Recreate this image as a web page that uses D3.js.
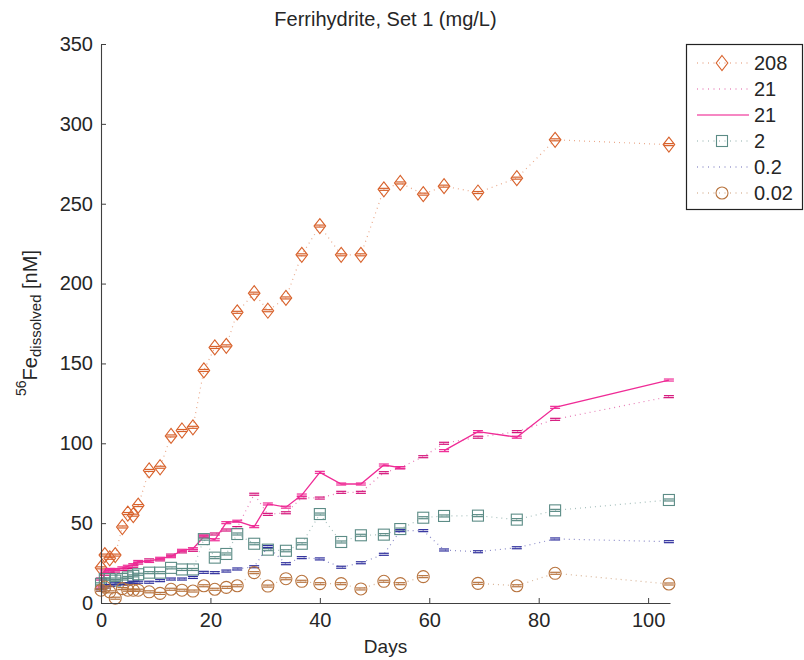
<!DOCTYPE html>
<html>
<head>
<meta charset="utf-8">
<script src="https://cdn.jsdelivr.net/npm/d3@7"></script>
<style>
    body { margin: 0; background: #fff; }
    svg { display: block; font-family: "Liberation Sans", Arial, sans-serif; }
</style>
</head>
<body>
<div id="chart"></div>
<script>
// Sampling days (shared by every series)
var days = [0, 0.7, 1.6, 2.6, 3.9, 4.9, 5.9, 6.8, 8.8, 10.8, 12.8, 14.8, 16.8,
    18.8, 20.8, 22.9, 24.9, 28, 30.5, 33.8, 36.7, 40, 43.9, 47.5, 51.7,
    54.7, 58.9, 62.7, 68.9, 76, 83, 103.8];

// 56Fe dissolved [nM] per ferrihydrite dose (mg/L); null = no sample
var fe208 = [22, 30, 28, 30, 47.6, 56, 55, 61, 83, 85, 104.6, 108, 110,
    145.6, 160, 161, 182, 194, 183, 191, 218, 236, 218, 218, 259,
    263, 256, 261, 257, 266, 290, 287];
var fe21dot = [15, 18, 20, 20, 21, 21, 23, 25, 27, 27, 30, 32, 33,
    42, 43.2, 45.7, 47.2, 68.1, 55.5, 56.5, 65.9, 65.7, 69.3, 69.3, 81.6,
    84.7, 91.6, 100, 103.8, 107.3, 115, 129.2];
var fe21solid = [10, 20, 21, 21, 22, 23, 24, 26, 26, 28, 29, 33, 34,
    41.5, 39.6, 50.3, 51.2, 47.8, 62, 60, 67.6, 81.8, 74.5, 74.5, 86.4,
    84.7, null, 95.4, 107.3, 103.8, 122.5, 139.6];
var fe2 = [12, 15, 15, 14, 15, 16, 17, 18, 19, 19, 22, 21, 21,
    40, 28.4, 30.7, 43.2, 37.1, 33.4, 32.7, 37.1, 55.7, 38.2, 42.4, 42.8,
    46.3, 53.4, 54.5, 54.7, 52.2, 58, 64.5];
var fe02 = [8, 10, 11, 12, 12, 12, 13, 13, 13, 14, 15, 15, 16,
    19.2, 19, 20, 21.3, 22.7, 35.3, 24.6, 28.4, 27.6, 22.4, 25.2, 30.5,
    45.3, 45.3, 33.2, 32.1, 34.6, 40.1, 38.4];
var fe002 = [8, 10, 7, 3, 9, 8, 8, 8, 7, 6, 8.6, 8, 7.5,
    10.8, 8.6, 9.8, 10.8, 19, 10.6, 15.2, 13.6, 12.1, 12.1, 8.8, 13.6,
    12.1, 16.5, null, 12.3, 10.8, 18.6, 11.9];

var legendLabels = ["208", "21", "21", "2", "0.2", "0.02"];
var xTicks = [0, 20, 40, 60, 80, 100];
var yTicks = [0, 50, 100, 150, 200, 250, 300, 350];

// Series styling
var series = [
    {values: fe208, color: "#d8622c", line: "dot", marker: "diamond"},
    {values: fe21dot, color: "#d4127a", line: "dot", marker: "none"},
    {values: fe21solid, color: "#ef2b96", line: "solid", marker: "none"},
    {values: fe2, color: "#5c8c86", line: "dot", marker: "square"},
    {values: fe02, color: "#2e2e9c", line: "dot", marker: "none"},
    {values: fe002, color: "#b8743f", line: "dot", marker: "circle"}
];
series.forEach(function (s, i) { s.label = legendLabels[i]; });

var W = 804, H = 660;
var plot = {left: 101, right: 670, top: 44, bottom: 603};
var TEXT = "#262626";

var svg = d3.select("#chart").append("svg")
    .attr("width", W)
    .attr("height", H);

var x = d3.scaleLinear().domain([0, 104]).range([plot.left, plot.right]);
var y = d3.scaleLinear().domain([0, 350]).range([plot.bottom, plot.top]);

// Draws a marker shape centred on (0,0)
function drawMarker(g, kind, color) {
    if (kind === "diamond") {
        g.append("path").attr("d", "M0,-7.5L5.8,0L0,7.5L-5.8,0Z")
            .attr("fill", "none").attr("stroke", color).attr("stroke-width", 1.1);
    } else if (kind === "square") {
        g.append("rect").attr("x", -5.5).attr("y", -5.5).attr("width", 11).attr("height", 11)
            .attr("fill", "none").attr("stroke", color).attr("stroke-width", 1.1);
    } else if (kind === "circle") {
        g.append("circle").attr("r", 6)
            .attr("fill", "none").attr("stroke", color).attr("stroke-width", 1.1);
    }
}

// Data lines and points
var lines = svg.append("g").attr("class", "series");
series.forEach(function (s) {
    var pts = days.map(function (d, i) { return {day: d, v: s.values[i]}; });
    var line = d3.line()
        .defined(function (p) { return p.v !== null; })
        .x(function (p) { return x(p.day); })
        .y(function (p) { return y(p.v); });

    var path = lines.append("path")
        .datum(pts)
        .attr("d", line)
        .attr("fill", "none")
        .attr("stroke", s.color);
    if (s.line === "dot") {
        path.attr("stroke-width", 1.2)
            .attr("stroke-dasharray", "1,4")
            .attr("opacity", 0.55);
    } else {
        path.attr("stroke-width", 1.3);
    }

    var pg = lines.append("g")
        .selectAll("g")
        .data(pts.filter(function (p) { return p.v !== null; }))
        .enter().append("g")
            .attr("transform", function (p) { return "translate(" + x(p.day) + "," + y(p.v) + ")"; });

    // error bar caps (tiny errors, so the caps nearly touch)
    pg.append("line").attr("x1", -5).attr("x2", 5).attr("y1", -1).attr("y2", -1)
        .attr("stroke", s.color).attr("stroke-width", 1.2);
    pg.append("line").attr("x1", -5).attr("x2", 5).attr("y1", 1).attr("y2", 1)
        .attr("stroke", s.color).attr("stroke-width", 1.2);
    pg.each(function () { drawMarker(d3.select(this), s.marker, s.color); });
});

// Axes (MATLAB-like: ticks inside, no box)
var xAxis = svg.append("g")
    .attr("transform", "translate(0," + plot.bottom + ")")
    .call(d3.axisBottom(x).tickValues(xTicks).tickSizeInner(-5).tickSizeOuter(0).tickPadding(10));
var yAxis = svg.append("g")
    .attr("transform", "translate(" + plot.left + ",0)")
    .call(d3.axisLeft(y).tickValues(yTicks).tickSizeInner(-5).tickSizeOuter(0).tickPadding(8));

[xAxis, yAxis].forEach(function (a) {
    a.select(".domain").attr("stroke", "#404040").attr("stroke-width", 1.1);
    a.selectAll(".tick line").attr("stroke", "#404040");
    a.selectAll("text")
        .attr("fill", TEXT)
        .style("font-size", "20px")
        .style("font-family", "'Liberation Sans', Arial, sans-serif");
});

// Title and axis labels
svg.append("text")
    .attr("x", (plot.left + plot.right) / 2)
    .attr("y", 26)
    .attr("text-anchor", "middle")
    .attr("fill", TEXT)
    .style("font-size", "20px")
    .text("Ferrihydrite, Set 1 (mg/L)");

svg.append("text")
    .attr("x", (plot.left + plot.right) / 2)
    .attr("y", 653)
    .attr("text-anchor", "middle")
    .attr("fill", TEXT)
    .style("font-size", "19px")
    .text("Days");

var ylab = svg.append("text")
    .attr("transform", "translate(37,323) rotate(-90)")
    .attr("text-anchor", "middle")
    .attr("fill", TEXT)
    .style("font-size", "20px");
ylab.append("tspan").attr("dy", -11).style("font-size", "14px").text("56");
ylab.append("tspan").attr("dy", 11).text("Fe");
ylab.append("tspan").attr("dy", 4).style("font-size", "15px").text("dissolved");
ylab.append("tspan").attr("dy", -4).text(" [nM]");

// Legend
var legend = svg.append("g").attr("class", "legend");
legend.append("rect")
    .attr("x", 686.5).attr("y", 44.5)
    .attr("width", 116).attr("height", 165)
    .attr("fill", "#fff")
    .attr("stroke", "#222")
    .attr("stroke-width", 1.2);

var rowY = d3.scalePoint().domain(d3.range(series.length)).range([63, 193]);
var item = legend.selectAll("g.item")
    .data(series)
    .enter().append("g")
        .attr("class", "item")
        .attr("transform", function (s, i) { return "translate(0," + rowY(i) + ")"; });

item.append("line")
    .attr("x1", 697).attr("x2", 749)
    .attr("stroke", function (s) { return s.color; })
    .attr("stroke-width", function (s) { return s.line === "dot" ? 1.2 : 1.6; })
    .attr("stroke-dasharray", function (s) { return s.line === "dot" ? "1,4.5" : null; })
    .attr("opacity", function (s) { return s.line === "dot" ? 0.7 : 0.75; });

item.each(function (s) {
    var m = d3.select(this).append("g").attr("transform", "translate(722,0)");
    drawMarker(m, s.marker, s.color);
});

item.append("text")
    .attr("x", 754)
    .attr("dy", "0.36em")
    .attr("fill", TEXT)
    .style("font-size", "20px")
    .text(function (s) { return s.label; });
</script>
</body>
</html>
